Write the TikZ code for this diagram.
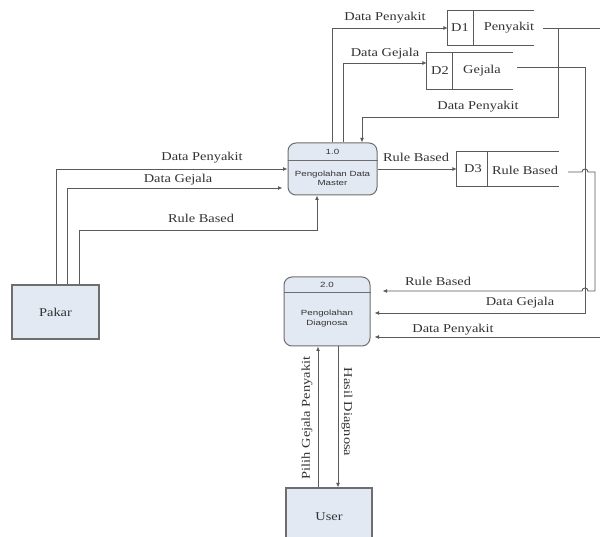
\documentclass[tikz,border=0pt]{standalone}
\usepackage{fontspec}
\setmainfont[FakeStretch=1.2]{Liberation Serif}
\newfontfamily\boxfont[FakeStretch=1.3]{Liberation Sans}
\usetikzlibrary{arrows.meta,calc}
\definecolor{linec}{HTML}{5A5A5A}
\definecolor{borderc}{HTML}{6E6E6E}
\definecolor{boxfill}{HTML}{E3E9F3}
\definecolor{txtc}{HTML}{333333}
\begin{document}
\begin{tikzpicture}[x=1pt,y=-1pt,
  plain/.style={draw=linec,line width=0.9pt},
  flow/.style={plain,-{Latex[length=4.5pt,width=4pt]}},
  lbl/.style={font=\fontsize{12}{14}\selectfont,text=txtc,inner sep=0pt},
  ext/.style={draw=borderc,line width=1.1pt,fill=boxfill,inner sep=0pt,font=\fontsize{12}{14}\selectfont,text=txtc},
  proc/.style={draw=borderc,line width=1pt,fill=boxfill,rounded corners=8pt,inner sep=0pt},
  hdr/.style={draw=borderc,line width=1.4pt},
  boxtxt/.style={font=\boxfont\fontsize{7.5}{10}\selectfont,text=txtc,inner sep=0pt,align=center},
  store/.style={inner sep=0pt,minimum height=34pt},
  storeline/.style={draw=linec,line width=1pt}
]
\useasboundingbox (0,0) rectangle (600,537);
\clip (0,0) rectangle (600,537);
\fill[white] (0,0) rectangle (600,537);

% external entities
\node[ext,minimum width=87pt,minimum height=54pt] (pakar) at (55.5,312) {Pakar};
\node[ext,minimum width=86pt,minimum height=57pt] (user) at (329,516.5) {User};

% processes
\node[proc,minimum width=89pt,minimum height=52pt] (p1) at (332.5,169) {};
\draw[hdr] ($(p1.north west)+(0,18)$) -- ($(p1.north east)+(0,18)$);
\node[boxtxt] (p1n) at (332.5,152) {1.0};
\node[boxtxt] (p1t) at (332.5,178) {Pengolahan Data\\[-1pt]Master};

\node[proc,minimum width=86pt,minimum height=69pt] (p2) at (327,311.5) {};
\draw[hdr] ($(p2.north west)+(0,16)$) -- ($(p2.north east)+(0,16)$);
\node[boxtxt] (p2n) at (327,285) {2.0};
\node[boxtxt] (p2t) at (327,319) {Pengolahan\\Diagnosa};

% data stores
\node[store,minimum width=86pt] (d1) at (491,28) {};
\draw[storeline] (d1.north east) -- (d1.north west) -- (d1.south west) -- (d1.south east);
\draw[storeline] ($(d1.north west)+(26,0)$) -- ($(d1.south west)+(26,0)$);
\node[lbl] (d1a) at (460,28) {D1};
\node[lbl] (d1b) at (509,28) {Penyakit};

\node[store,minimum width=86pt,minimum height=36pt] (d2) at (470,71) {};
\draw[storeline] (d2.north east) -- (d2.north west) -- (d2.south west) -- (d2.south east);
\draw[storeline] ($(d2.north west)+(26,0)$) -- ($(d2.south west)+(26,0)$);
\node[lbl] (d2a) at (440,71) {D2};
\node[lbl] (d2b) at (482,71) {Gejala};

\node[store,minimum width=102pt] (d3) at (508,169) {};
\draw[storeline] (d3.north east) -- (d3.north west) -- (d3.south west) -- (d3.south east);
\draw[storeline] ($(d3.north west)+(31,0)$) -- ($(d3.south west)+(31,0)$);
\node[lbl] (d3a) at (473,169) {D3};
\node[lbl] (d3b) at (525,170) {Rule Based};

% helper coordinates
\coordinate (d1o) at (543,28);
\coordinate (j1) at (558,28);
\coordinate (e1) at (601,28);
\coordinate (e2) at (601,337);
\coordinate (d2o) at (517,67);
\coordinate (c2) at (585,67);
\coordinate (d3o) at (568,172);
\coordinate (c3) at (595,172);
\coordinate (c3b) at (595,291);
\coordinate (x1) at (c2 |- d3o);
\coordinate (x2) at (c2 |- c3b);

% Pakar -> 1.0
\draw[flow] ($(pakar.north west)+(45,0)$) |- (p1.west);
\draw[flow] ($(pakar.north west)+(56,0)$) |- ($(p1.west)+(-5,19)$);
\draw[flow] ($(pakar.north west)+(68,0)$) |- ($(p1.south)+(-15.5,35)$) -- ($(p1.south)+(-15.5,0)$);

% 1.0 -> stores
\draw[flow] ($(p1.north)+(-0.5,0)$) |- (d1.west);
\draw[flow] ($(p1.north)+(10.5,0)$) |- ($(d2.west)+(0,-8)$);
\draw[flow] (p1.east) -- (d3.west);

% D1 -> 1.0 and D1 -> 2.0
\draw[plain] (d1o) -- (e1) -- (e2);
\draw[flow] (j1) |- ($(p1.north)+(29.5,-25)$) -- ($(p1.north)+(29.5,0)$);
\draw[flow] (e2) -- ($(p2.east |- e2)+(4,0)$);

% D2 -> 2.0
\draw[flow] (d2o) -- (c2) |- ($(p2.east)+(4,1.5)$);

% D3 -> 2.0 with hops
\draw[flow] (d3o) -- ($(x1)+(-3,0)$) .. controls +(0,-4) and +(0,-4) .. ($(x1)+(3,0)$) -- (c3) -- (c3b)
  -- ($(x2)+(3,0)$) .. controls +(0,-4) and +(0,-4) .. ($(x2)+(-3,0)$) -- ($(p2.east)+(12,-20.5)$);

% User <-> 2.0
\draw[flow] ($(user.north)+(-11,0)$) -- ($(p2.south)+(-9,0)$);
\draw[flow] ($(p2.south)+(11,0)$) -- ($(user.north)+(9,0)$);

% labels
\node[lbl] (l1) at (385,18) {Data Penyakit};
\node[lbl] (l2) at (385,54) {Data Gejala};
\node[lbl] (l3) at (478,107) {Data Penyakit};
\node[lbl] (l4) at (416,157) {Rule Based};
\node[lbl] (l5) at (202,158) {Data Penyakit};
\node[lbl] (l6) at (178,180) {Data Gejala};
\node[lbl] (l7) at (201,218) {Rule Based};
\node[lbl] (l8) at (438,281) {Rule Based};
\node[lbl] (l9) at (520,303) {Data Gejala};
\node[lbl] (l10) at (453,330) {Data Penyakit};
\node[lbl,rotate=90] (l11) at (307,418) {Pilih Gejala Penyakit};
\node[lbl,rotate=-90] (l12) at (347,412) {Hasil Diagnosa};
\end{tikzpicture}
\end{document}
